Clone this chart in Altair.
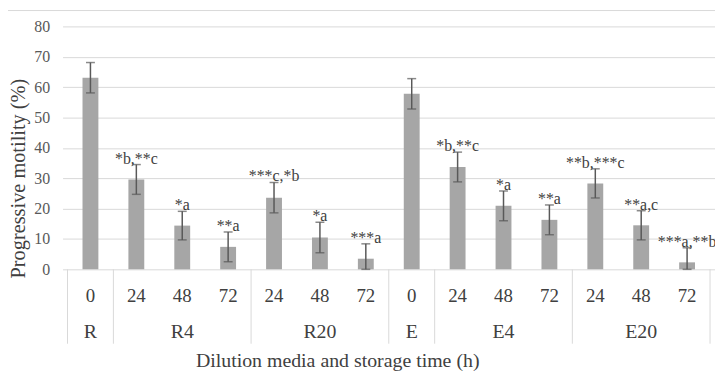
import altair as alt
import pandas as pd

groups = ["R", "R4", "R4", "R4", "R20", "R20", "R20", "E", "E4", "E4", "E4", "E20", "E20", "E20"]
times = ["0", "24", "48", "72", "24", "48", "72", "0", "24", "48", "72", "24", "48", "72"]
means = [63.1, 29.6, 14.4, 7.4, 23.6, 10.5, 3.5, 57.8, 33.7, 20.9, 16.3, 28.3, 14.5, 2.3]
errors = [5.0, 4.9, 4.7, 4.9, 5.0, 5.0, 4.9, 5.0, 4.9, 4.9, 4.9, 4.8, 4.8, 4.8]
notes = ["", "*b,**c", "*a", "**a", "***c,*b", "*a", "***a", "", "*b,**c", "*a", "**a",
         "**b,***c", "**a,c", "***a,**b"]
y_ticks = [0, 10, 20, 30, 40, 50, 60, 70, 80]

FONT = "Liberation Serif"
TXT = "#404040"

df = pd.DataFrame({"idx": list(range(len(groups))), "group": groups, "time": times,
                   "mean": means, "err": errors, "note": notes})
df["hi"] = df["mean"] + df["err"]
df["lo"] = (df["mean"] - df["err"]).clip(lower=0)

gdf = df.groupby("group", sort=False)["idx"].agg(["min", "max"]).reset_index()
gdf["center"] = (gdf["min"] + gdf["max"]) / 2
bounds = sorted(set(list(gdf["min"] - 0.5) + list(gdf["max"] + 0.5)))
bdf = pd.DataFrame({"b": bounds})

xscale = alt.Scale(domain=[-0.5, len(groups) - 0.5], nice=False, zero=False)
yscale = alt.Scale(domain=[0, 80], nice=False)

xaxis = alt.Axis(labels=False, ticks=False, domain=False, grid=False,
                 title="Dilution media and storage time (h)",
                 titleFont=FONT, titleFontSize=20, titleFontWeight="normal",
                 titleColor=TXT, titleX=277, titleY=92,
                 titleAlign="center", titleBaseline="middle")
yaxis = alt.Axis(values=y_ticks, grid=True, gridColor="#d9d9d9", gridWidth=1,
                 domain=False, ticks=False, labelFont=FONT, labelFontSize=16,
                 labelColor="#595959", labelPadding=13,
                 title="Progressive motility (%)", titleFont=FONT,
                 titleFontSize=20.5, titleFontWeight="normal", titleColor=TXT,
                 titleAngle=-90, titleX=-44, titleY=153, titleAlign="center",
                 titleBaseline="middle")


def X(field):
    return alt.X(field, scale=xscale, axis=xaxis)


def Y(field):
    return alt.Y(field, scale=yscale, axis=yaxis)


base = alt.Chart(df)

bars = base.mark_bar(size=16, color="#a6a6a6").encode(x=X("idx:Q"), y=Y("mean:Q"))

err_rule = base.mark_rule(color="#595959", strokeWidth=1.5).encode(
    x=X("idx:Q"), y=Y("lo:Q"), y2="hi:Q")
cap_hi = base.mark_tick(color="#595959", size=9, thickness=1.5, orient="horizontal").encode(
    x=X("idx:Q"), y=Y("hi:Q"))
cap_lo = base.mark_tick(color="#595959", size=9, thickness=1.5, orient="horizontal").encode(
    x=X("idx:Q"), y=Y("lo:Q"))

note_text = base.mark_text(font=FONT, fontSize=16, color=TXT, baseline="alphabetic",
                           align="center", dy=-1).encode(
    x=X("idx:Q"), y=Y("hi:Q"), text="note:N")

time_text = base.mark_text(font=FONT, fontSize=19, color=TXT, baseline="middle",
                           align="center").encode(
    x=X("idx:Q"), y=alt.value(272), text="time:N")

group_text = alt.Chart(gdf).mark_text(font=FONT, fontSize=20, color=TXT, baseline="middle",
                                      align="center").encode(
    x=X("center:Q"), y=alt.value(308), text="group:N")

seps = alt.Chart(bdf).mark_rule(color="#d9d9d9", strokeWidth=1).encode(
    x=X("b:Q"), y=alt.value(245), y2=alt.value(320))

top_border = alt.Chart(pd.DataFrame({"v": [0]})).mark_rule(color="#d9d9d9", strokeWidth=1).encode(
    x=alt.value(-55), x2=alt.value(660), y=alt.value(-16))

chart = alt.layer(top_border, seps, bars, err_rule, cap_hi, cap_lo, note_text,
                  time_text, group_text).properties(
    width=658, height=245,
    autosize=alt.AutoSizeParams(type="none"),
    padding={"left": 55, "top": 17, "right": 0, "bottom": 104},
).configure_view(stroke=None)

chart.save("out.html", embed_options={"renderer": "svg", "actions": False})
